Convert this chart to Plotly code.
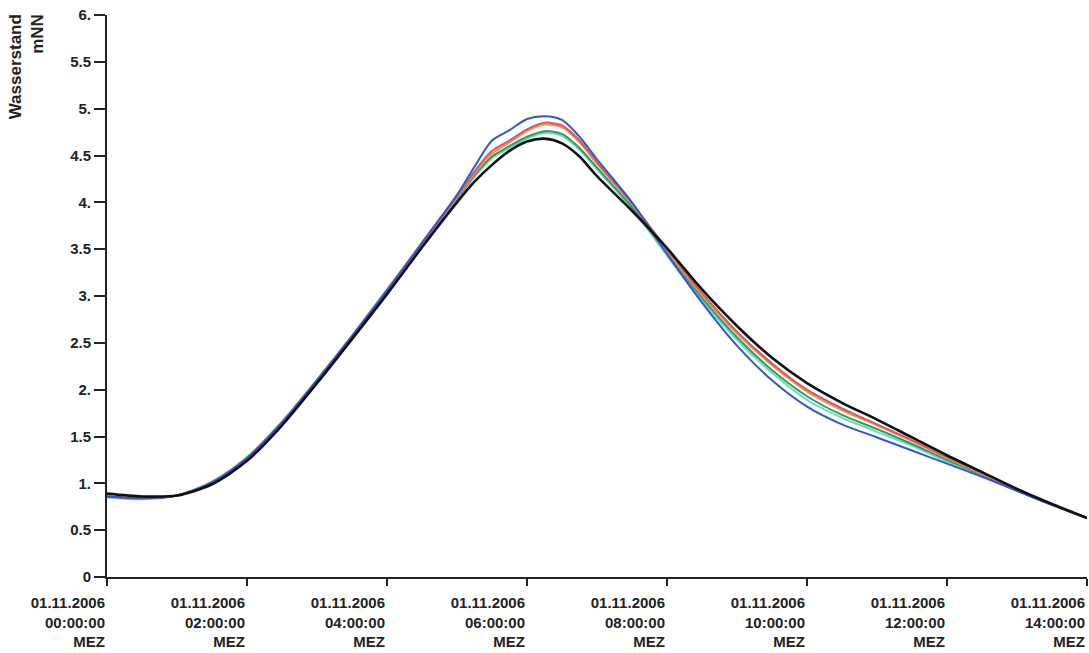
import plotly.graph_objects as go

# time in hours after 01.11.2006 00:00 MEZ
hours = [0, 0.5, 1, 1.5, 2, 2.5, 3, 3.5, 4, 4.5, 5, 5.25, 5.5, 5.75, 6, 6.25, 6.5,
         6.75, 7, 7.5, 8, 8.5, 9, 9.5, 10, 10.5, 11, 11.5, 12, 12.5, 13, 13.5, 14]

black = [0.89, 0.86, 0.87, 0.99, 1.24, 1.62, 2.07, 2.54, 3.02, 3.52, 4.00, 4.22, 4.40,
         4.55, 4.65, 4.68, 4.63, 4.49, 4.28, 3.91, 3.51, 3.07, 2.68, 2.34, 2.07, 1.86,
         1.68, 1.49, 1.30, 1.12, 0.94, 0.78, 0.63]
blue = [0.86, 0.84, 0.87, 1.01, 1.27, 1.65, 2.10, 2.57, 3.06, 3.57, 4.08, 4.38, 4.66,
        4.77, 4.89, 4.92, 4.88, 4.70, 4.46, 4.00, 3.45, 2.93, 2.47, 2.10, 1.82, 1.63,
        1.49, 1.35, 1.21, 1.07, 0.92, 0.77, 0.63]
red = [0.86, 0.84, 0.87, 1.01, 1.27, 1.65, 2.10, 2.57, 3.06, 3.56, 4.06, 4.33, 4.55,
       4.66, 4.78, 4.85, 4.82, 4.66, 4.43, 3.99, 3.50, 3.03, 2.62, 2.28, 2.00, 1.80,
       1.63, 1.46, 1.28, 1.11, 0.93, 0.77, 0.63]
orange = [0.86, 0.84, 0.87, 1.01, 1.27, 1.65, 2.10, 2.57, 3.06, 3.56, 4.05, 4.31, 4.52,
          4.64, 4.76, 4.83, 4.80, 4.64, 4.41, 3.98, 3.48, 3.01, 2.60, 2.26, 1.98, 1.78,
          1.62, 1.45, 1.27, 1.10, 0.93, 0.77, 0.63]
green = [0.86, 0.84, 0.87, 1.01, 1.27, 1.65, 2.10, 2.57, 3.06, 3.55, 4.04, 4.29, 4.49,
         4.60, 4.70, 4.76, 4.73, 4.58, 4.37, 3.95, 3.46, 2.98, 2.56, 2.21, 1.93, 1.73,
         1.58, 1.42, 1.25, 1.09, 0.92, 0.77, 0.63]
cyan = [0.85, 0.83, 0.87, 1.02, 1.28, 1.66, 2.11, 2.58, 3.07, 3.55, 4.03, 4.27, 4.47,
        4.58, 4.68, 4.74, 4.71, 4.56, 4.35, 3.93, 3.43, 2.95, 2.53, 2.18, 1.89, 1.70,
        1.55, 1.40, 1.23, 1.08, 0.92, 0.77, 0.63]

y_ticks = [0, 0.5, 1, 1.5, 2, 2.5, 3, 3.5, 4, 4.5, 5, 5.5, 6]
y_labels = ["0", "0.5", "1.", "1.5", "2.", "2.5", "3.", "3.5", "4.", "4.5", "5.", "5.5", "6."]
x_ticks = [0, 2, 4, 6, 8, 10, 12, 14]
x_labels = ["01.11.2006<br>%02d:00:00<br>MEZ" % h for h in x_ticks]

series = [
    ("cyan", cyan, "#6fd8cc", 2),
    ("green", green, "#2f9e5e", 2),
    ("orange", orange, "#d8a04a", 2),
    ("red", red, "#e5506a", 2),
    ("blue", blue, "#3556cf", 2),
    ("black", black, "#111111", 2.6),
]

fig = go.Figure()
for name, vals, col, w in series:
    fig.add_trace(go.Scatter(x=hours, y=vals, mode="lines", name=name,
                             line=dict(color=col, width=w, shape="spline", smoothing=0.8)))

FAM = "Liberation Sans, Arial, sans-serif"
font = dict(family=FAM, size=15, color="#222222")

fig.update_layout(
    width=1089, height=653,
    margin=dict(l=107, r=2, t=15, b=76),
    paper_bgcolor="white", plot_bgcolor="white",
    showlegend=False,
    font=font,
)
fig.update_xaxes(
    range=[0, 14], tickvals=x_ticks, ticktext=["<b>%s</b>" % t for t in x_labels],
    showgrid=False, zeroline=False, showline=True, linecolor="#222222", linewidth=2,
    ticks="outside", ticklen=7, tickwidth=2, tickcolor="#222222",
    ticklabelposition="outside left", ticklabelstandoff=11, automargin=False,
    tickfont=dict(family=FAM, size=15, color="#222222"),
)
fig.update_yaxes(
    range=[0, 6], tickvals=y_ticks, ticktext=["<b>%s</b>" % t for t in y_labels],
    showgrid=False, zeroline=False, showline=True, linecolor="#222222", linewidth=2,
    ticks="outside", ticklen=11, tickwidth=2, tickcolor="#222222", automargin=False,
    tickfont=dict(family=FAM, size=15, color="#222222"),
)
fig.add_annotation(
    text="<b>Wasserstand<br>mNN</b>", textangle=-90, align="right",
    xref="paper", yref="paper", x=-0.082, y=1.005,
    xanchor="center", yanchor="top", showarrow=False,
    font=dict(family=FAM, size=17, color="#222222"),
)

fig.write_html(
    "out.html",
    config={"responsive": False, "displayModeBar": False},
    post_script="document.body.style.margin='0px';document.body.style.overflow='hidden';",
)
